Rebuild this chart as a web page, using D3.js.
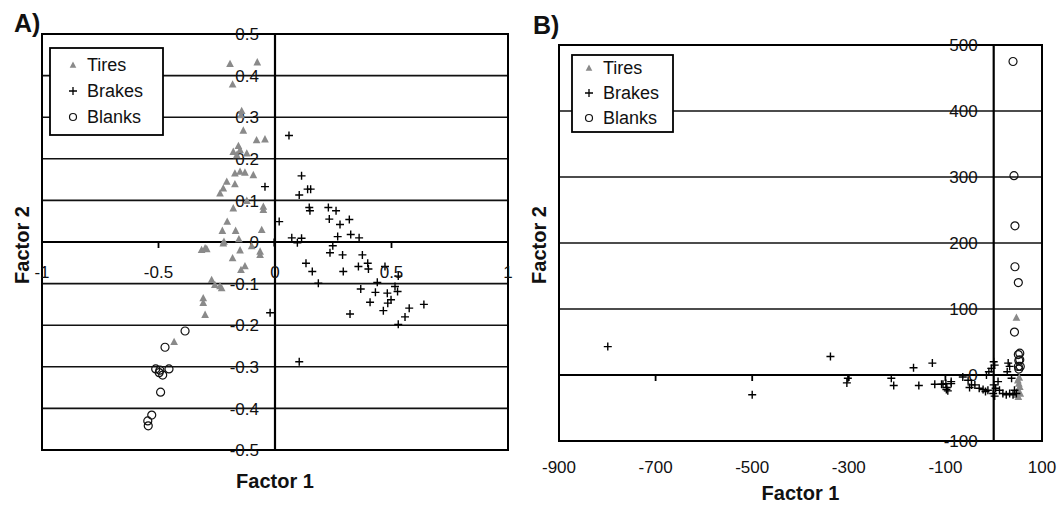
<!DOCTYPE html>
<html>
<head>
<meta charset="utf-8">
<script src="https://cdn.jsdelivr.net/npm/d3@7"></script>
<style>
  body { margin: 0; background: #fff; }
  svg { display: block; font-family: "Liberation Sans", Arial, sans-serif; }
</style>
</head>
<body>
<svg id="chart" width="1061" height="506"></svg>
<script>
// ---- data, panel A (factor loadings) ----
var tiresA = [
  [-0.193,0.428],[-0.076,0.432],[-0.182,0.379],[-0.143,0.315],[-0.146,0.305],
  [-0.136,0.268],[-0.079,0.245],[-0.043,0.247],[-0.157,0.231],[-0.150,0.221],
  [-0.179,0.217],[-0.121,0.213],[-0.164,0.209],[-0.172,0.165],[-0.150,0.169],
  [-0.129,0.167],[-0.093,0.161],[-0.207,0.145],[-0.172,0.139],[-0.222,0.129],
  [-0.236,0.117],[-0.121,0.099],[-0.050,0.085],[-0.050,0.077],[-0.179,0.081],
  [-0.205,0.049],[-0.226,0.027],[-0.169,0.027],[-0.057,0.029],[-0.219,0.001],
  [-0.155,0.007],[-0.300,-0.015],[-0.315,-0.019],[-0.293,-0.017],[-0.222,-0.003],
  [-0.064,-0.023],[-0.064,-0.031],[-0.182,-0.039],[-0.129,-0.058],[-0.146,-0.067],
  [-0.272,-0.091],[-0.258,-0.103],[-0.236,-0.106],[-0.229,-0.111],[-0.308,-0.135],
  [-0.308,-0.146],[-0.300,-0.175],[-0.433,-0.240],[-0.100,-0.010],[-0.150,-0.020]
];
var brakesA = [
  [0.060,0.256],[0.114,0.159],[0.104,0.113],[0.140,0.127],[0.153,0.127],
  [0.147,0.083],[0.150,0.075],[0.229,0.083],[0.262,0.075],[0.233,0.055],
  [0.279,0.042],[0.319,0.054],[0.018,0.049],[0.325,0.018],[0.269,0.013],
  [0.361,0.010],[0.072,0.010],[0.096,-0.002],[0.114,0.009],[-0.004,-0.001],
  [0.248,-0.009],[0.236,-0.026],[0.290,-0.031],[0.375,-0.031],[0.133,-0.051],
  [0.160,-0.071],[0.186,-0.099],[0.293,-0.071],[0.358,-0.059],[0.398,-0.051],
  [0.401,-0.065],[0.472,-0.059],[0.529,-0.082],[0.439,-0.097],[0.515,-0.107],
  [0.368,-0.113],[0.431,-0.121],[0.482,-0.123],[0.526,-0.119],[0.498,-0.139],
  [0.408,-0.145],[0.484,-0.147],[0.465,-0.165],[0.322,-0.173],[0.576,-0.159],
  [0.639,-0.150],[0.558,-0.180],[0.529,-0.198],[-0.021,-0.170],[-0.043,0.133],
  [0.104,-0.288]
];
var blanksA = [
  [-0.386,-0.214],[-0.472,-0.253],[-0.512,-0.305],[-0.494,-0.308],[-0.455,-0.305],
  [-0.482,-0.320],[-0.497,-0.314],[-0.491,-0.361],[-0.529,-0.416],[-0.546,-0.430],
  [-0.544,-0.442]
];

// ---- data, panel B (factor scores) ----
var tiresB = [
  [47,87],[50,-8],[52,-13],[54,-18],[50,-23],[55,-28],[47,-30],[53,-4],[51,-33]
];
var brakesB = [
  [-799,43],[-500,-30],[-338,28],[-302,-5],[-304,-12],[-212,-5],[-207,-16],
  [-166,11],[-127,18],[-155,-16],[-122,-14],[-105,-14],[-98,-22],[-88,-13],
  [-108,-14],[-99,-13],[-97,-19],[-95,-24],[-88,-10],[-64,-3],[-53,-8],
  [-46,-15],[-50,-19],[-39,-15],[-30,-20],[-22,-22],[-17,-25],[-12,-23],
  [-15,0],[-10,5],[0,20],[2,15],[-5,10],[0,-15],[4,-20],[9,-10],[12,-23],
  [-1,-28],[2,-32],[19,-28],[26,-30],[33,13],[30,18],[28,5],[37,-5],
  [33,-28],[40,-30],[47,-28],[43,-23]
];
var blanksB = [
  [40,475],[42,302],[44,226],[44,164],[51,140],[43,65],[54,33],[54,23],
  [55,13],[52,9],[51,31],[52,22],[51,13]
];

var xTicksA = [-1, -0.5, 0, 0.5, 1];
var xLabelsA = ["-1", "-0.5", "0", "0.5", "1"];
var yTicksA = [0.5, 0.4, 0.3, 0.2, 0.1, 0, -0.1, -0.2, -0.3, -0.4, -0.5];
var yLabelsA = ["0.5", "0.4", "0.3", "0.2", "0.1", "0", "-0.1", "-0.2", "-0.3", "-0.4", "-0.5"];
var xTicksB = [-900, -700, -500, -300, -100, 100];
var yTicksB = [500, 400, 300, 200, 100, 0, -100];
var seriesNames = ["Tires", "Brakes", "Blanks"];

var svg = d3.select("#chart");

function triPath(s) {
  return "M0," + (-s * 0.6) + "L" + (s * 0.55) + "," + (s * 0.45) + "L" + (-s * 0.55) + "," + (s * 0.45) + "Z";
}

function drawMarks(g, pts, kind, x, y) {
  var sel = g.append("g").selectAll("path").data(pts).enter().append("path")
    .attr("transform", function(d){ return "translate(" + x(d[0]) + "," + y(d[1]) + ")"; });
  if (kind == "Tires") {
    sel.attr("d", triPath(7)).attr("fill", "#8a8a8a");
  } else if (kind == "Brakes") {
    sel.attr("d", "M-4,0H4M0,-4V4").attr("stroke", "#000").attr("stroke-width", 1.4).attr("fill", "none");
  } else {
    sel.attr("d", d3.arc()({innerRadius: 0, outerRadius: 4, startAngle: 0, endAngle: 2 * Math.PI}))
      .attr("fill", "none").attr("stroke", "#111").attr("stroke-width", 1.2);
  }
}

function drawPanel(cfg) {
  var x = d3.scaleLinear().domain(cfg.xDomain).range([cfg.left, cfg.right]);
  var y = d3.scaleLinear().domain(cfg.yDomain).range([cfg.bottom, cfg.top]);
  var g = svg.append("g");

  // horizontal grid lines
  g.append("g").selectAll("line").data(cfg.yTicks).enter().append("line")
    .attr("x1", cfg.left).attr("x2", cfg.right)
    .attr("y1", function(d){ return y(d); }).attr("y2", function(d){ return y(d); })
    .attr("stroke", "#111").attr("stroke-width", 1.6);

  // plot box
  g.append("rect").attr("x", cfg.left).attr("y", cfg.top)
    .attr("width", cfg.right - cfg.left).attr("height", cfg.bottom - cfg.top)
    .attr("fill", "none").attr("stroke", "#000").attr("stroke-width", 2);

  // vertical axis at x = 0
  g.append("line").attr("x1", x(0)).attr("x2", x(0)).attr("y1", cfg.top).attr("y2", cfg.bottom)
    .attr("stroke", "#000").attr("stroke-width", 2.2);
  // horizontal axis at y = 0
  g.append("line").attr("x1", cfg.left).attr("x2", cfg.right).attr("y1", y(0)).attr("y2", y(0))
    .attr("stroke", "#000").attr("stroke-width", 2);

  // x ticks on the zero line
  g.append("g").selectAll("line").data(cfg.xTicks).enter().append("line")
    .attr("x1", function(d){ return x(d); }).attr("x2", function(d){ return x(d); })
    .attr("y1", y(0)).attr("y2", y(0) + 6)
    .attr("stroke", "#000").attr("stroke-width", 1.8);

  // y tick labels, next to the vertical axis
  g.append("g").selectAll("text").data(cfg.yTicks).enter().append("text")
    .attr("x", x(0) - 16).attr("y", function(d){ return y(d); })
    .attr("dy", "0.36em").attr("text-anchor", "end")
    .attr("font-size", 17).attr("fill", "#111")
    .text(function(d, i){ return cfg.yLabels[i]; });

  // legend
  var lg = g.append("g");
  lg.append("rect").attr("x", cfg.legX).attr("y", cfg.legY).attr("width", cfg.legW).attr("height", cfg.legH)
    .attr("fill", "#fff").attr("stroke", "#000").attr("stroke-width", 1.8);

  // data marks
  drawMarks(g, cfg.tires, "Tires", x, y);
  drawMarks(g, cfg.brakes, "Brakes", x, y);
  drawMarks(g, cfg.blanks, "Blanks", x, y);

  // x tick labels (drawn after marks so they sit on top)
  g.append("g").selectAll("text").data(cfg.xTicks).enter().append("text")
    .attr("x", function(d){ return x(d); }).attr("y", cfg.xLabelY)
    .attr("dy", "0.36em").attr("text-anchor", "middle")
    .attr("font-size", 17).attr("fill", "#111")
    .text(function(d, i){ return cfg.xLabels[i]; });

  var items = lg.selectAll("g.item").data(seriesNames).enter().append("g")
    .attr("transform", function(d, i){ return "translate(" + cfg.legSymX + "," + (cfg.legY + cfg.legTop + i * cfg.legStep) + ")"; });
  items.each(function(d){
    var it = d3.select(this);
    if (d == "Tires") it.append("path").attr("d", triPath(6)).attr("fill", "#8a8a8a");
    else if (d == "Brakes") it.append("path").attr("d", "M-4,0H4M0,-4V4").attr("stroke", "#000").attr("stroke-width", 1.3);
    else it.append("circle").attr("r", 3.5).attr("fill", "none").attr("stroke", "#111").attr("stroke-width", 1.2);
  });
  items.append("text").attr("x", 14).attr("dy", "0.36em").attr("font-size", 18).attr("fill", "#111")
    .text(function(d){ return d; });

  // titles
  svg.append("text").attr("x", cfg.tagX).attr("y", cfg.tagY).attr("font-size", 25)
    .attr("font-weight", "bold").attr("fill", "#111").text(cfg.tag);
  svg.append("text").attr("x", (cfg.left + cfg.right) / 2).attr("y", cfg.xTitleY)
    .attr("text-anchor", "middle").attr("font-size", 20).attr("font-weight", "bold").attr("fill", "#111")
    .text("Factor 1");
  svg.append("text").attr("transform", "translate(" + cfg.yTitleX + "," + cfg.yTitleY + ") rotate(-90)")
    .attr("text-anchor", "middle").attr("font-size", 20).attr("font-weight", "bold").attr("fill", "#111")
    .text("Factor 2");
}

drawPanel({
  left: 42, right: 508, top: 34, bottom: 450,
  xDomain: [-1, 1], yDomain: [-0.5, 0.5],
  xTicks: xTicksA, xLabels: xLabelsA, yTicks: yTicksA, yLabels: yLabelsA,
  xLabelY: 272,
  tires: tiresA, brakes: brakesA, blanks: blanksA,
  legX: 50, legY: 48, legW: 113, legH: 87, legSymX: 73, legTop: 17, legStep: 26,
  tag: "A)", tagX: 14, tagY: 32,
  xTitleY: 488, yTitleX: 29, yTitleY: 245
});

drawPanel({
  left: 559, right: 1042, top: 45, bottom: 441,
  xDomain: [-900, 100], yDomain: [-100, 500],
  xTicks: xTicksB, xLabels: xTicksB.map(String), yTicks: yTicksB, yLabels: yTicksB.map(String),
  xLabelY: 467,
  tires: tiresB, brakes: brakesB, blanks: blanksB,
  legX: 572, legY: 55, legW: 101, legH: 77, legSymX: 589, legTop: 13, legStep: 25,
  tag: "B)", tagX: 533, tagY: 34,
  xTitleY: 500, yTitleX: 546, yTitleY: 245
});
</script>
</body>
</html>
